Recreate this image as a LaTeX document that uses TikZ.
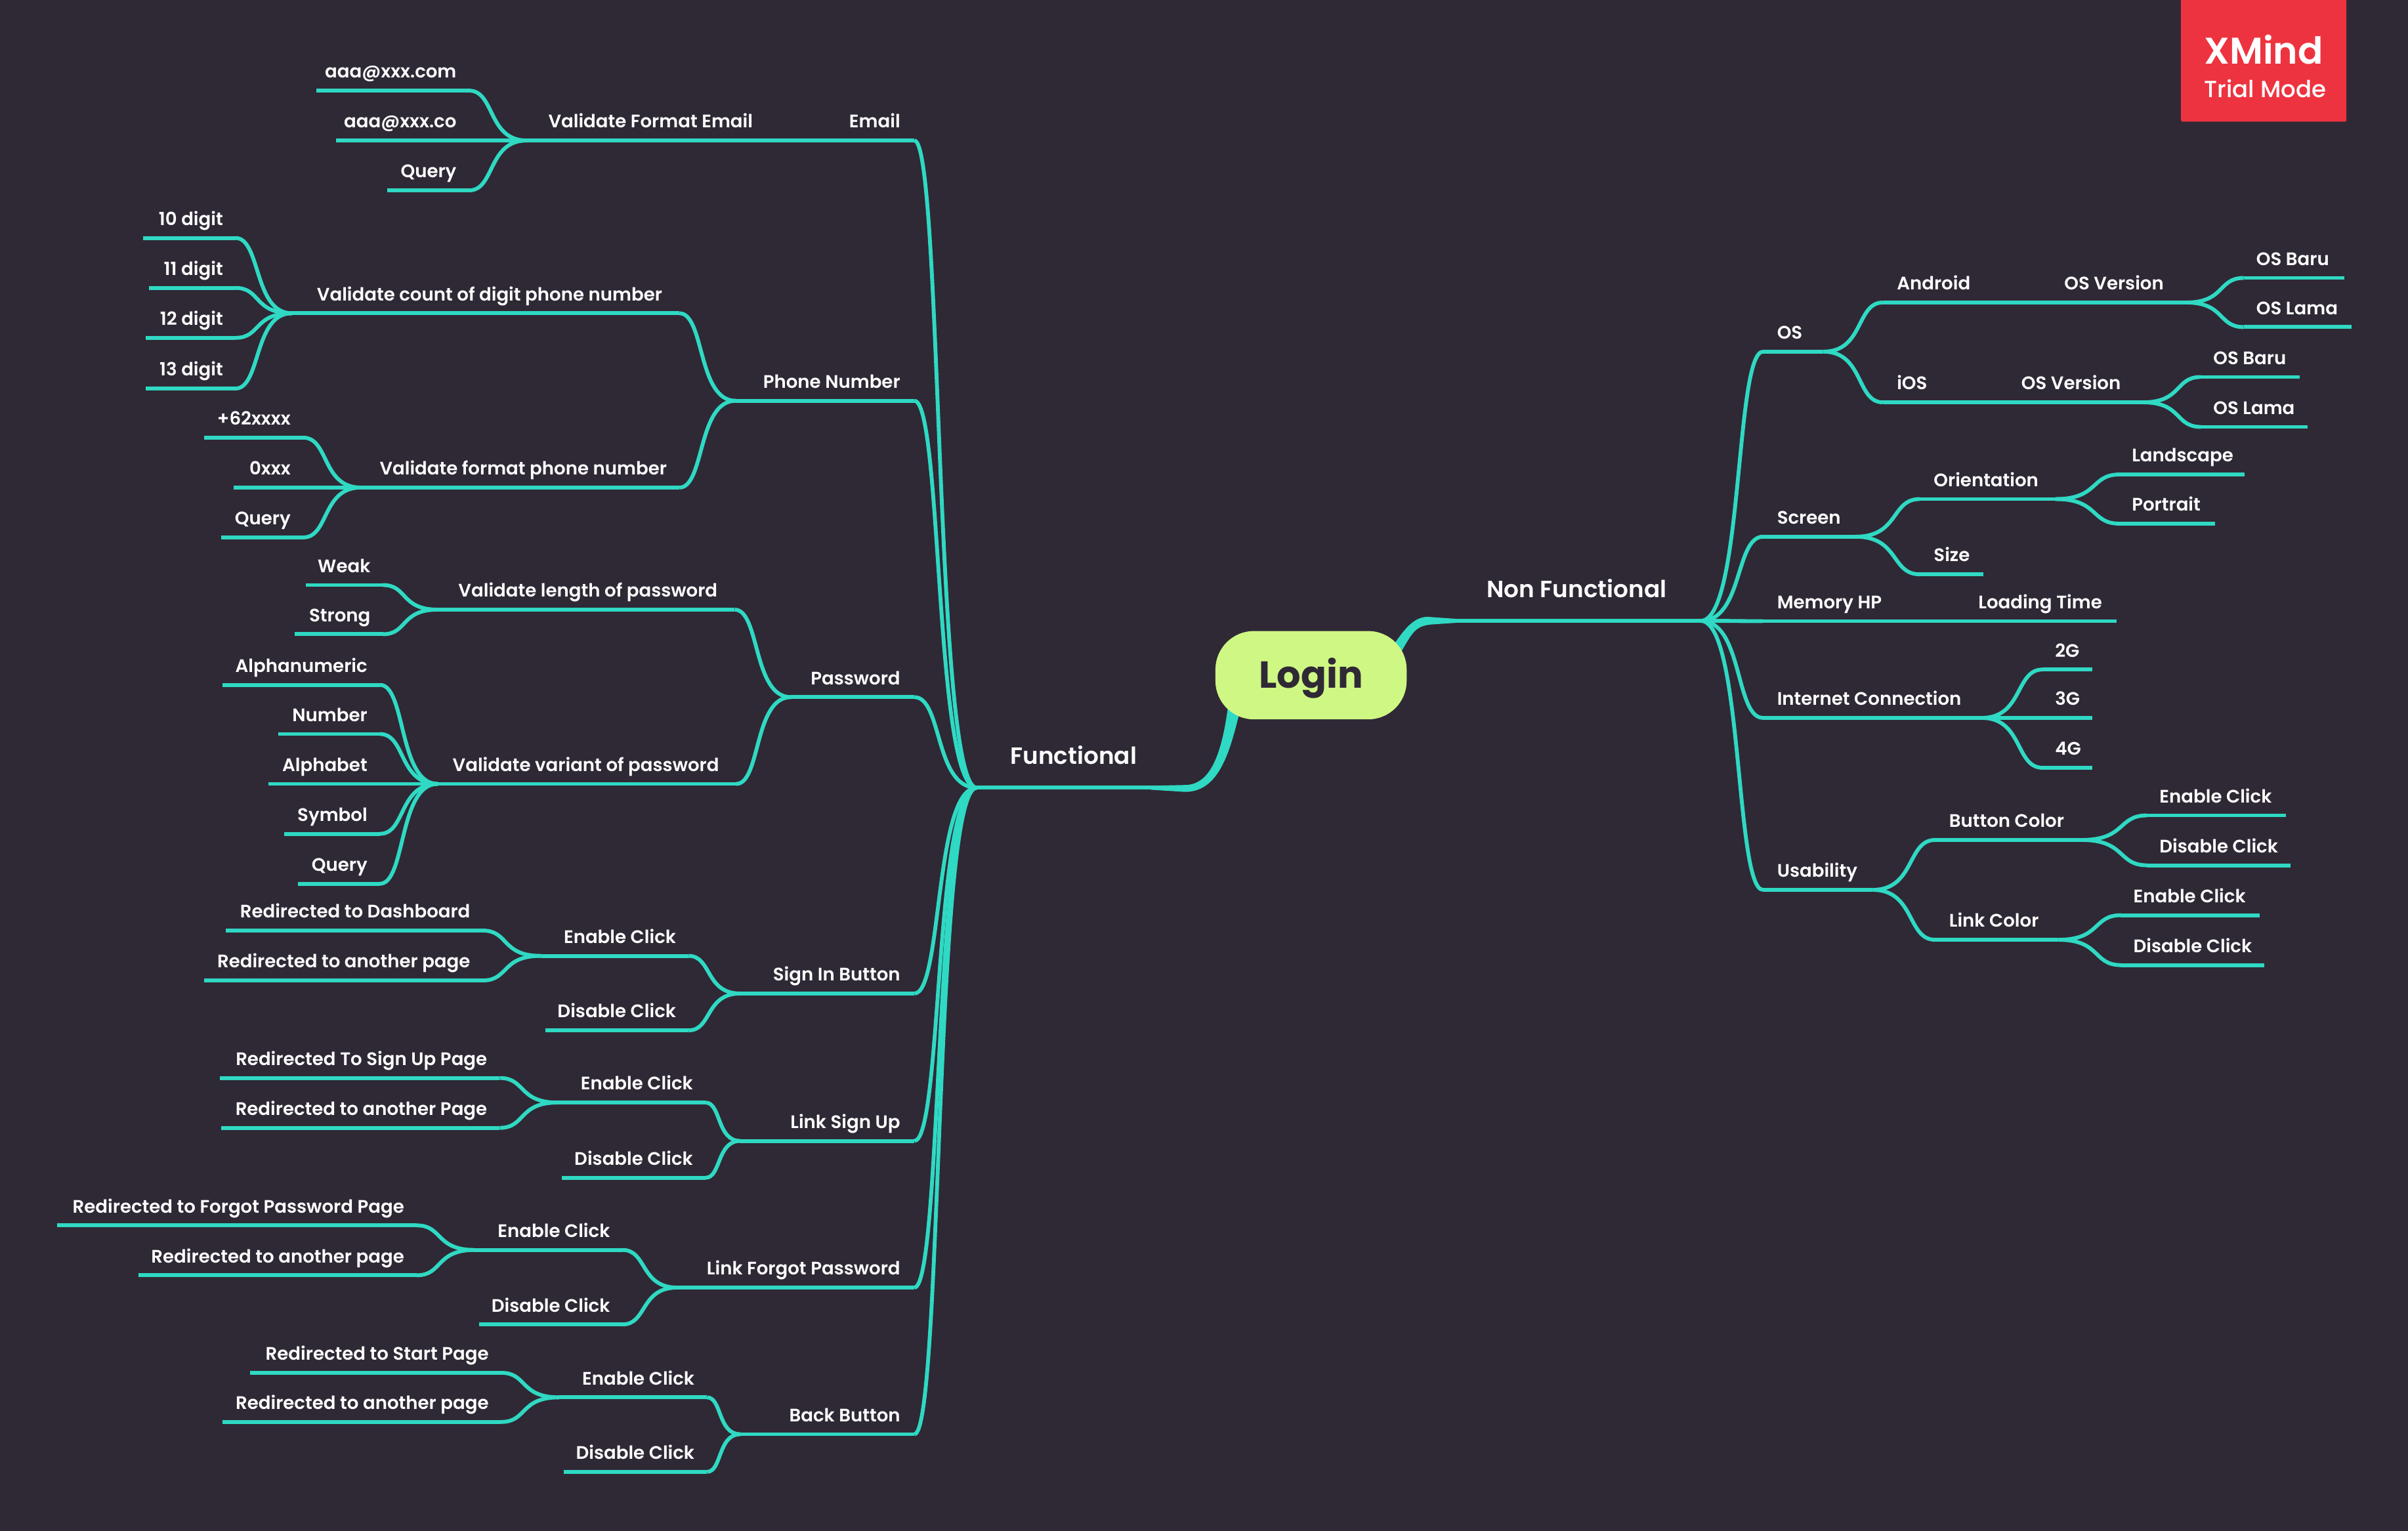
\documentclass[tikz,border=0pt]{standalone}
\usepackage{fontspec}
\setmainfont{Poppins}[UprightFont=* SemiBold,BoldFont=* Bold]
\newfontfamily\thinfont{Poppins}[UprightFont=* Medium]
\usetikzlibrary{calc,backgrounds}
\definecolor{bgc}{HTML}{2F2935}
\definecolor{lnc}{HTML}{2FD9C3}
\definecolor{rootc}{HTML}{CFF784}
\definecolor{badge}{HTML}{EE3340}
\tikzset{
  tp/.style={anchor=south west,inner xsep=0pt,inner ysep=0pt,text=white,font=\fontsize{11.8}{14}\selectfont,text height=11pt,text depth=8pt},
  big/.style={font=\fontsize{15.3}{17}\selectfont,text height=13pt,text depth=15pt},
  ln/.style={draw=lnc,line width=2.5pt,line join=round}
}
\newcommand\tpl[6][]{\node[tp,#1,at={(#3,#5)}] (#2) {\makebox[\dimexpr#4pt-#3pt\relax][r]{#6\hspace{8pt}}};}
\newcommand\tpr[7][]{\node[tp,#1,at={(#3,#5)}] (#2) {\makebox[\dimexpr#4pt-#3pt\relax][l]{\hspace{#6pt}#7}};}
\newcommand\ulin[1]{\draw[ln] (#1.south west)--(#1.south east);}
\newcommand\cnl[2]{\draw[ln] let \p1=(#1.south west),\p2=(#2.south east) in (\p2) .. controls ({\x2+0.45*(\x1-\x2)},\y2) and ({\x2+0.32*(\x1-\x2)},\y1) .. (\p1);}
\newcommand\cnr[2]{\draw[ln] let \p1=(#1.south east),\p2=(#2.south west) in (\p1) .. controls ({\x1+0.68*(\x2-\x1)},\y1) and ({\x1+0.55*(\x2-\x1)},\y2) .. (\p2);}
\begin{document}
\begin{tikzpicture}[x=1pt,y=-1pt]
\useasboundingbox (0,0) rectangle (1568,997);
\node[rounded corners=25pt,fill=rootc,text=bgc,minimum width=124.5pt,minimum height=57.5pt,inner sep=0pt,text height=20pt,text depth=3.4pt,font=\fontsize{24.5}{28}\selectfont\bfseries] (login) at (853.7,439.7) {Login};
% left tree
\tpl[big]{fn}{636}{771}{513}{Functional\hspace{23pt}}
\tpl{email}{543}{595}{91.5}{Email\hspace{1pt}}
\tpl{vfe}{343}{498}{91.5}{Validate Format Email}
\tpl{e1}{206}{305}{59}{aaa@xxx.com}
\tpl{e2}{219}{305}{91.5}{aaa@xxx.co}
\tpl{e3}{252}{305}{124}{Query}
\tpl{phone}{479}{595}{261}{Phone Number\hspace{1pt}}
\tpl{vcd}{190}{442}{204}{Validate count of digit phone number\hspace{3pt}}
\tpl{d1}{93}{153}{155}{10 digit}
\tpl{d2}{97}{153}{187.5}{11 digit}
\tpl{d3}{95}{153}{220}{12 digit}
\tpl{d4}{95}{153}{253}{13 digit}
\tpl{vfp}{235}{442}{317.5}{Validate format phone number}
\tpl{p1}{133}{197}{285}{+62xxxx}
\tpl{p2}{152}{197}{317.5}{0xxx}
\tpl{p3}{144}{197}{350}{Query}
\tpl{pass}{515}{595}{454}{Password\hspace{1pt}}
\tpl{vlp}{285}{478}{397}{Validate length of password\hspace{3pt}}
\tpl{w1}{199}{249}{381}{Weak}
\tpl{w2}{192}{249}{413}{Strong}
\tpl{vvp}{285}{479}{510.5}{Validate variant of password\hspace{3pt}}
\tpl{v1}{145}{247}{446}{Alphanumeric}
\tpl{v2}{181}{247}{478}{Number}
\tpl{v3}{175}{247}{510.5}{Alphabet}
\tpl{v4}{185}{247}{543}{Symbol}
\tpl{v5}{194}{247}{575.5}{Query}
\tpl{sib}{482}{595}{647}{Sign In Button\hspace{1pt}}
\tpl{sie}{352}{448}{622.5}{Enable Click}
\tpl{si1}{147}{314}{606}{Redirected to Dashboard}
\tpl{si2}{133}{314}{638.5}{Redirected to another page}
\tpl{sid}{355}{448}{671}{Disable Click}
\tpl{lsu}{482}{595}{743}{Link Sign Up\hspace{1pt}}
\tpl{lse}{363}{459}{718}{Enable Click}
\tpl{ls1}{143}{325}{702}{Redirected To Sign Up Page}
\tpl{ls2}{144}{325}{734.5}{Redirected to another Page}
\tpl{lsd}{366}{459}{767}{Disable Click}
\tpl{lfp}{441}{595}{838.5}{Link Forgot Password\hspace{1pt}}
\tpl{lfe}{309}{405}{814}{Enable Click}
\tpl{lf1}{37}{271}{798}{Redirected to Forgot Password Page}
\tpl{lf2}{90}{271}{830.5}{Redirected to another page}
\tpl{lfd}{312}{405}{862.5}{Disable Click}
\tpl{bb}{482}{595}{934}{Back Button\hspace{1pt}}
\tpl{bbe}{364}{460}{910}{Enable Click}
\tpl{bb1}{163}{326}{894}{Redirected to Start Page}
\tpl{bb2}{145}{326}{926}{Redirected to another page}
\tpl{bbd}{367}{460}{958.5}{Disable Click}
% right tree
\tpr[big]{nf}{950}{1107}{404.3}{18}{Non Functional}
\tpr{os}{1148}{1187}{229}{9}{OS}
\tpr{and}{1226}{1292}{197}{9}{Android}
\tpr{av}{1292}{1423}{197}{52}{OS Version}
\tpr{ab}{1461}{1526}{181}{8}{OS Baru}
\tpr{al}{1461}{1531}{213}{8}{OS Lama}
\tpr{ios}{1226}{1263}{262}{9}{iOS}
\tpr{iv}{1263}{1395}{262}{53}{OS Version}
\tpr{ib}{1433}{1497}{245.5}{8}{OS Baru}
\tpr{il}{1433}{1502}{278}{8}{OS Lama}
\tpr{scr}{1148}{1208}{349.5}{9}{Screen}
\tpr{ori}{1250}{1338}{325}{9}{Orientation}
\tpr{lan}{1380}{1461}{309}{8}{Landscape}
\tpr{por}{1380}{1442}{341}{8}{Portrait}
\tpr{siz}{1250}{1291}{374}{9}{Size}
\tpr{mem}{1148}{1235}{404.5}{9}{Memory HP}
\tpr{lod}{1235}{1378}{404.5}{53}{Loading Time}
\tpr{net}{1148}{1290}{467.5}{9}{Internet Connection}
\tpr{g2}{1330}{1362}{436}{8}{2G}
\tpr{g3}{1330}{1362}{467.5}{8}{3G}
\tpr{g4}{1330}{1362}{500}{8}{4G}
\tpr{usa}{1148}{1219}{579.5}{9}{Usability}
\tpr{btn}{1260}{1355}{547}{9}{Button Color}
\tpr{be}{1398}{1488}{531}{8}{Enable Click}
\tpr{bd}{1398}{1491}{563.5}{8}{Disable Click}
\tpr{lnk}{1260}{1340}{612}{9}{Link Color}
\tpr{le}{1381}{1471}{596}{8}{Enable Click}
\tpr{ld}{1381}{1474}{628.5}{8}{Disable Click}
% badge
\node[anchor=north west,fill=badge,minimum width=107.7pt,minimum height=80pt,inner sep=0pt,rounded corners=1pt] (badgebox) at (1420,-1) {};
\node[anchor=base,text=white,inner sep=0pt,font=\fontsize{24.2}{28}\selectfont] (xm) at (1474,41.6) {XMind};
\node[anchor=base,text=white,inner sep=0pt,font=\fontsize{15.2}{18}\selectfont\thinfont] (tm) at (1475,63.5) {Trial Mode};
\begin{scope}[on background layer]
\fill[bgc] (0,0) rectangle (1568,997);
% root connectors
\draw[ln] ([shift={(56,-17)}]login.center) .. controls (920,405) and (925,404) .. (nf.south west);
\fill[lnc] ([shift={(54,-20)}]login.center) .. controls ([shift={(62,-32)}]login.center) and ([shift={(68,-38)}]login.center) .. ([shift={(76,-38)}]login.center) -- ([shift={(-2,-1.3)}]nf.south west) -- ([shift={(-2,1.3)}]nf.south west) -- ([shift={(78,-33)}]login.center) .. controls ([shift={(68,-32)}]login.center) and ([shift={(66,-28)}]login.center) .. ([shift={(58,-14)}]login.center) -- cycle;
\draw[ln] ([shift={(-50,24)}]login.center) .. controls (795,495) and (790,513) .. (fn.south east);
\fill[lnc] ([shift={(-54,20)}]login.center) .. controls ([shift={(-58,50)}]login.center) and ([shift={(-65,71.5)}]login.center) .. ([shift={(-82,71.5)}]login.center) -- ([shift={(-22,-1.3)}]fn.south east) -- ([shift={(-22,1.3)}]fn.south east) -- ([shift={(-82,76)}]login.center) .. controls ([shift={(-60,76)}]login.center) and ([shift={(-53,50)}]login.center) .. ([shift={(-47,26)}]login.center) -- cycle;
% underlines
\foreach \n in {fn,email,vfe,e1,e2,e3,phone,vcd,d1,d2,d3,d4,vfp,p1,p2,p3,pass,vlp,w1,w2,vvp,v1,v2,v3,v4,v5,sib,sie,si1,si2,sid,lsu,lse,ls1,ls2,lsd,lfp,lfe,lf1,lf2,lfd,bb,bbe,bb1,bb2,bbd,nf,os,and,av,ab,al,ios,iv,ib,il,scr,ori,lan,por,siz,mem,lod,net,g2,g3,g4,usa,btn,be,bd,lnk,le,ld}{\ulin{\n}}
% left curves
\foreach \c in {email,phone,pass,sib,lsu,lfp,bb}{\cnl{fn}{\c}}
\cnl{email}{vfe}
\foreach \c in {e1,e2,e3}{\cnl{vfe}{\c}}
\foreach \c in {vcd,vfp}{\cnl{phone}{\c}}
\foreach \c in {d1,d2,d3,d4}{\cnl{vcd}{\c}}
\foreach \c in {p1,p2,p3}{\cnl{vfp}{\c}}
\foreach \c in {vlp,vvp}{\cnl{pass}{\c}}
\foreach \c in {w1,w2}{\cnl{vlp}{\c}}
\foreach \c in {v1,v2,v3,v4,v5}{\cnl{vvp}{\c}}
\foreach \c in {sie,sid}{\cnl{sib}{\c}}
\foreach \c in {si1,si2}{\cnl{sie}{\c}}
\foreach \c in {lse,lsd}{\cnl{lsu}{\c}}
\foreach \c in {ls1,ls2}{\cnl{lse}{\c}}
\foreach \c in {lfe,lfd}{\cnl{lfp}{\c}}
\foreach \c in {lf1,lf2}{\cnl{lfe}{\c}}
\foreach \c in {bbe,bbd}{\cnl{bb}{\c}}
\foreach \c in {bb1,bb2}{\cnl{bbe}{\c}}
% right curves
\foreach \c in {os,scr,mem,net,usa}{\cnr{nf}{\c}}
\foreach \c in {and,ios}{\cnr{os}{\c}}
\cnr{and}{av}
\foreach \c in {ab,al}{\cnr{av}{\c}}
\cnr{ios}{iv}
\foreach \c in {ib,il}{\cnr{iv}{\c}}
\foreach \c in {ori,siz}{\cnr{scr}{\c}}
\foreach \c in {lan,por}{\cnr{ori}{\c}}
\cnr{mem}{lod}
\foreach \c in {g2,g3,g4}{\cnr{net}{\c}}
\foreach \c in {btn,lnk}{\cnr{usa}{\c}}
\foreach \c in {be,bd}{\cnr{btn}{\c}}
\foreach \c in {le,ld}{\cnr{lnk}{\c}}
\end{scope}
\end{tikzpicture}
\end{document}
